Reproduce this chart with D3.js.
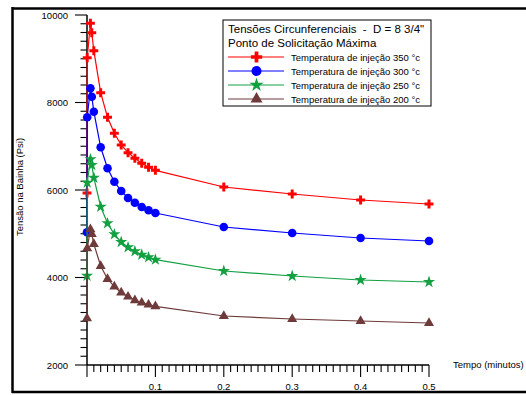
<!DOCTYPE html>
<html><head><meta charset="utf-8">
<script src="https://cdn.jsdelivr.net/npm/d3@7"></script>
<style>body{margin:0;background:#fff}svg{display:block}text{font-family:"Liberation Sans",Arial,sans-serif;white-space:pre}</style>
</head><body>
<svg id="c" width="526" height="395"></svg>
<script>
const times = [0, 0.0003, 0.005, 0.007, 0.01, 0.02, 0.03, 0.04, 0.05, 0.06, 0.07, 0.08, 0.09, 0.1, 0.2, 0.3, 0.4, 0.5];
const t350 = [5930, 9024, 9810, 9595, 9184, 8224, 7662, 7296, 7029, 6853, 6725, 6610, 6519, 6450, 6069, 5909, 5771, 5680];
const t300 = [5033, 7662, 8325, 8133, 7790, 6976, 6496, 6190, 5977, 5817, 5710, 5611, 5536, 5474, 5154, 5017, 4903, 4834];
const t250 = [4041, 6167, 6702, 6571, 6281, 5618, 5239, 4987, 4811, 4690, 4599, 4521, 4462, 4407, 4149, 4034, 3943, 3897];
const t200 = [3067, 4667, 5102, 4994, 4766, 4263, 3966, 3790, 3653, 3561, 3479, 3424, 3378, 3342, 3120, 3051, 3006, 2960];
const seriesNames = ["Temperatura de injeção 350 °c","Temperatura de injeção 300 °c","Temperatura de injeção 250 °c","Temperatura de injeção 200 °c"];
const xTickLabels = ["0.1","0.2","0.3","0.4","0.5"];
const yTickLabels = ["2000","4000","6000","8000","10000"];
const legendTitle = ["Tensões Circunferenciais  -  D = 8 3/4\"","Ponto de Solicitação Máxima"];
const xTitle = "Tempo (minutos)";
const yTitle = "Tensão na Bainha (Psi)";

const series = [
  {name: seriesNames[0], values: t350, color: "#ff0000", sym: d3.symbolCross, size: 44, lsize: 70},
  {name: seriesNames[1], values: t300, color: "#0000ff", sym: d3.symbolCircle, size: 58, lsize: 80},
  {name: seriesNames[2], values: t250, color: "#12a040", sym: d3.symbolStar, size: 46, lsize: 62},
  {name: seriesNames[3], values: t200, color: "#6e3a3a", sym: d3.symbolTriangle, size: 44, lsize: 62}
];

const svg = d3.select("#c");
const x = d3.scaleLinear().domain([0, 0.5]).range([87, 429]);
const y = d3.scaleLinear().domain([2000, 10000]).range([365, 15]);

// frame
svg.append("line").attr("x1",12).attr("x2",526).attr("y1",8.5).attr("y2",8.5).attr("stroke","#000").attr("stroke-width",2.5);
svg.append("line").attr("x1",12.5).attr("x2",12.5).attr("y1",7).attr("y2",393).attr("stroke","#000").attr("stroke-width",2.5);
svg.append("line").attr("x1",12).attr("x2",526).attr("y1",392).attr("y2",392).attr("stroke","#000").attr("stroke-width",2.5);

// x axis
const xMinor = d3.range(0, 51).map(i => i/100);
const gx = svg.append("g");
gx.append("line").attr("x1",x(0)).attr("x2",x(0.5)).attr("y1",365).attr("y2",365).attr("stroke","#000").attr("stroke-width",1.5);
gx.selectAll("line.t").data(xMinor).join("line").attr("class","t")
  .attr("x1",d=>x(d)).attr("x2",d=>x(d)).attr("y1",365)
  .attr("y2",(d,i)=> (i%10===0 ? 377 : 372)).attr("stroke","#000").attr("stroke-width",1.1);
gx.selectAll("text").data(xTickLabels).join("text")
  .attr("x",d=>x(+d)).attr("y",390).attr("text-anchor","middle").attr("font-size",9.5).text(d=>d);

// y axis
const yMinor = d3.range(2000, 10001, 200);
const gy = svg.append("g");
gy.append("line").attr("x1",87).attr("x2",87).attr("y1",y(10000)).attr("y2",y(2000)).attr("stroke","#000").attr("stroke-width",1.5);
gy.selectAll("line.t").data(yMinor).join("line").attr("class","t")
  .attr("y1",d=>y(d)).attr("y2",d=>y(d)).attr("x1",87)
  .attr("x2",d=> (d%2000===0 ? 75 : 80.5)).attr("stroke","#000").attr("stroke-width",1.1);
gy.selectAll("text").data(yTickLabels).join("text")
  .attr("x",68).attr("y",d=>y(+d)+3.5).attr("text-anchor","end").attr("font-size",9.5).text(d=>d);

svg.append("text").attr("x",453).attr("y",368).attr("font-size",9.5).text(xTitle);
svg.append("text").attr("transform","translate(23,187) rotate(-90)").attr("text-anchor","middle").attr("font-size",9.5).text(yTitle);

// series
const line = d3.line().x((d,i)=>x(times[i])).y(d=>y(d));
series.forEach(s => {
  svg.append("path").attr("d", line(s.values)).attr("fill","none").attr("stroke",s.color).attr("stroke-width",1.2);
  svg.append("g").selectAll("path").data(s.values).join("path")
    .attr("transform",(d,i)=>`translate(${x(times[i])},${y(d)})`)
    .attr("d", d3.symbol().type(s.sym).size(s.size)).attr("fill",s.color);
});

// legend
const lg = svg.append("g");
lg.append("rect").attr("x",223).attr("y",20).attr("width",208).attr("height",86).attr("fill","#fff").attr("stroke","#000").attr("stroke-width",1);
lg.selectAll("text.h").data(legendTitle).join("text").attr("class","h")
  .attr("x",228).attr("y",(d,i)=>33+i*13.5).attr("font-size",11.5).text(d=>d);
series.forEach((s,i) => {
  const yy = 57 + i*14;
  lg.append("line").attr("x1",228).attr("x2",284).attr("y1",yy).attr("y2",yy).attr("stroke",s.color).attr("stroke-width",1.2);
  lg.append("path").attr("transform",`translate(256.5,${yy})`).attr("d",d3.symbol().type(s.sym).size(s.lsize)).attr("fill",s.color);
  lg.append("text").attr("x",291).attr("y",yy+3.5).attr("font-size",9.5).text(s.name);
});
</script>
</body></html>
